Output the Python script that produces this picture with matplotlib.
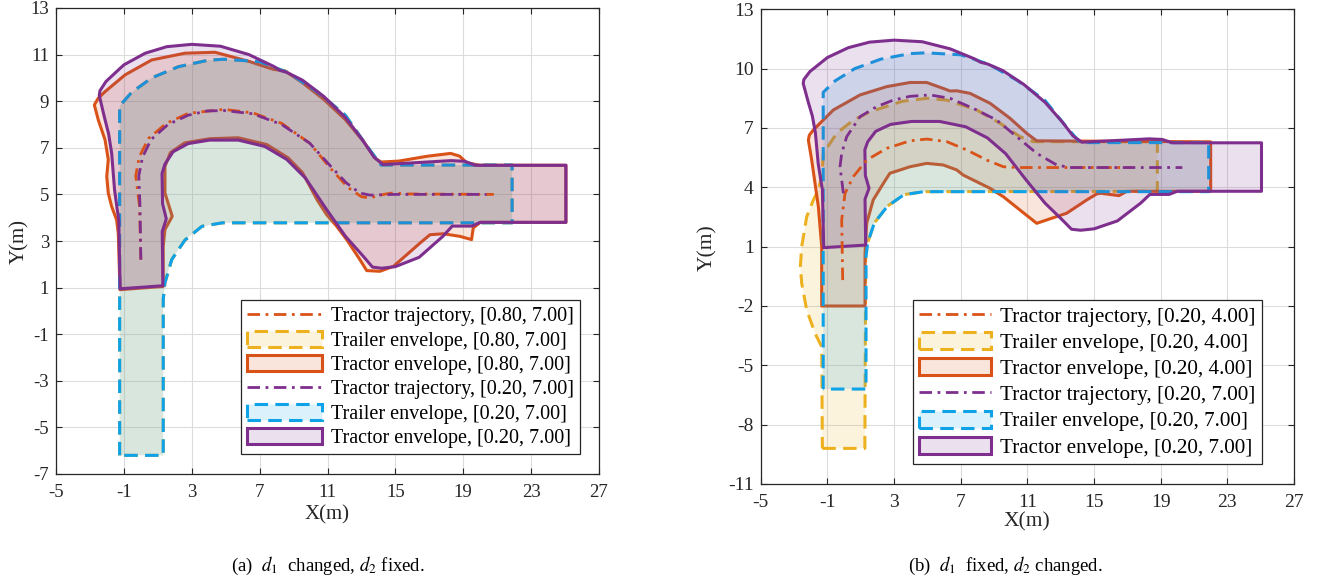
import matplotlib
matplotlib.use('Agg')
import matplotlib.pyplot as plt
from matplotlib.patches import Polygon
from matplotlib.colors import to_rgba
import numpy as np

plt.rcParams['font.family'] = ['Liberation Serif', 'DejaVu Serif']
plt.rcParams['mathtext.fontset'] = 'stix'
plt.rcParams['axes.unicode_minus'] = False

# ---------------- data ----------------
X_TICKS = [-5, -1, 3, 7, 11, 15, 19, 23, 27]
Y_TICKS_A = [-7, -5, -3, -1, 1, 3, 5, 7, 9, 11, 13]
Y_TICKS_B = [-11, -8, -5, -2, 1, 4, 7, 10, 13]

# trailer envelope, d2 = 7.00 (shared by [0.80, 7.00] and [0.20, 7.00])
TRAILER_D2_7_X = [-1.25, -1.25, -0.54, 0.64, 2.21, 3.97, 4.9, 7.0, 8.7, 10.4, 12.05, 13.3, 14.16,
                  21.88, 21.88, 4.8, 3.6, 2.6, 1.82, 1.42, 1.32, 1.32]
TRAILER_D2_7_Y = [-6.2, 8.8, 9.38, 10.0, 10.48, 10.76, 10.8, 10.7, 10.22, 9.4, 8.4, 7.1, 6.26,
                  6.26, 3.78, 3.78, 3.63, 3.04, 2.2, 1.2, 0.5, -6.2]

# tractor envelope [0.20, 7.00]
TRACTOR_P_X = [-1.22, -1.3, -1.42, -1.55, -1.72, -1.9, -2.16, -2.45, -2.41, -2.05, -1.0, 0.26, 1.53,
               3.0, 4.69, 6.37, 7.84, 8.2, 8.6, 9.53, 10.79, 12.06, 13.1, 13.74, 14.27, 18.3, 19.1,
               19.7, 25.05, 25.05, 20.0, 19.5, 18.35, 17.8, 16.4, 15.0, 14.2, 13.65, 13.1, 12.06,
               10.9, 9.7, 8.6, 7.3, 5.74, 4.05, 2.79, 1.9, 1.42, 1.25, 1.28, 1.5, 1.26, 1.3]
TRACTOR_P_Y = [0.95, 3.9, 4.5, 5.2, 6.77, 7.6, 8.35, 9.25, 9.45, 9.85, 10.56, 11.06, 11.34,
               11.44, 11.36, 11.0, 10.49, 10.32, 10.24, 9.9, 9.2, 8.3, 7.3, 6.6, 6.28, 6.45, 6.42,
               6.25, 6.25, 3.8, 3.8, 3.64, 3.64, 3.2, 2.3, 1.9, 1.83, 1.88, 2.35, 3.2,
               4.4, 5.7, 6.5, 7.06, 7.33, 7.33, 7.18, 6.83, 6.3, 5.9, 4.6, 3.95, 3.4, 1.08]

# tractor envelope [0.80, 7.00]
TRACTOR_O_A_X = [-1.23, -1.33, -1.43, -1.72, -1.92, -2.01, -1.92, -2.11, -2.51, -2.74, -2.51, -2.11,
                 -0.93, 0.64, 2.6, 4.37, 6.37, 7.84, 8.47, 9.53, 10.79, 12.05, 13.1, 13.84, 14.16,
                 15.2, 16.9, 18.26, 18.79, 19.2, 20.0, 25.05, 25.05, 20.0, 19.59, 19.49, 18.8, 17.83,
                 17.04, 16.45, 15.67, 14.88, 14.09, 13.31, 12.91, 12.13, 11.54, 10.95, 10.4, 9.95,
                 9.53, 8.68, 7.42, 5.74, 4.05, 2.58, 1.74, 1.42, 1.42, 1.85, 1.42, 1.32, 1.32]
TRACTOR_O_A_Y = [0.91, 3.34, 3.91, 4.48, 5.06, 5.77, 6.49, 7.34, 8.2, 8.84, 9.13, 9.41,
                 10.13, 10.77, 11.06, 11.1, 10.71, 10.36, 10.31, 9.79, 9.07, 8.21, 7.29, 6.53, 6.39,
                 6.43, 6.64, 6.76, 6.64, 6.36, 6.25, 6.25, 3.8, 3.8, 3.56, 3.06, 3.2, 3.31,
                 3.27, 2.91, 2.41, 1.91, 1.7, 1.73, 2.2, 3.06, 3.63, 4.13, 4.75, 5.36,
                 5.93, 6.57, 7.14, 7.43, 7.39, 7.21, 6.79, 6.2, 5.06, 4.06, 3.49, 2.77, 1.05]

# tractor trajectories, panel (a)
TRAJ_A_O_X = [0.0, -0.08, -0.3, -0.1, 0.45, 1.5, 2.8, 4.9, 6.6, 8.3, 9.95, 11.2, 12.2, 13.0, 13.5,
              14.3, 14.9, 15.5, 20.8]
TRAJ_A_O_Y = [2.2, 4.5, 5.8, 6.6, 7.4, 8.05, 8.48, 8.65, 8.5, 8.05, 7.2, 6.1, 5.3, 4.9, 4.85,
              5.0, 5.07, 5.02, 5.0]
TRAJ_A_P_X = [0.0, -0.05, -0.12, 0.1, 0.6, 1.6, 2.8, 3.9, 4.9, 6.6, 8.3, 9.95, 11.2, 12.1, 12.9,
              13.5, 15.0, 20.37]
TRAJ_A_P_Y = [2.2, 4.5, 5.8, 6.6, 7.35, 8.0, 8.4, 8.58, 8.6, 8.46, 8.0, 7.2, 6.2, 5.5, 5.06,
              4.97, 5.0, 5.0]

# panel (b): trailer envelope [0.20, 4.00]
TRAILER_B_Y4_X = [-1.3, 1.25, 1.3, 1.42, 1.82, 2.6, 3.6, 4.8, 18.8, 18.8, 11.36, 10.56, 9.36,
                  7.96, 6.16, 5.0, 3.5, 1.56, 0.56, -0.44, -1.24, -1.34, -1.54, -1.84, -2.24,
                  -2.54, -2.62, -2.54, -2.24, -1.74, -1.34]
TRAILER_B_Y4_Y = [-9.2, -9.2, 0.5, 1.2, 2.2, 3.04, 3.63, 3.78, 3.8, 6.3, 6.31, 6.56, 7.24,
                  7.91, 8.41, 8.5, 8.35, 7.82, 7.4, 6.73, 5.72, 4.54, 3.86, 3.36, 2.51,
                  1.0, 0.0, -0.85, -2.2, -3.38, -4.06]

# panel (b): tractor envelope [0.20, 4.00]
TRACTOR_O_B_X = [-1.34, -1.34, -1.44, -1.54, -1.74, -1.94, -2.14, -2.08, -1.84, -1.44, -0.64, 0.96,
                 2.56, 3.96, 4.96, 5.95, 6.36, 6.76, 7.56, 8.76, 9.96, 10.96, 11.56, 22.0, 22.0,
                 16.97, 16.5, 15.4, 15.17, 14.56, 13.36, 12.16, 11.56, 10.56, 9.55, 8.76, 7.75,
                 7.15, 6.76, 5.95, 4.96, 3.96, 2.75, 2.36, 1.75, 1.36, 1.26, 1.26]
TRACTOR_O_B_Y = [-2.0, 1.0, 2.01, 3.02, 4.2, 5.38, 6.39, 6.64, 6.9, 7.24, 7.91, 8.67,
                 9.09, 9.3, 9.3, 9.0, 8.87, 8.88, 8.75, 8.25, 7.49, 6.73, 6.35, 6.3, 3.8,
                 3.8, 3.58, 3.7, 3.67, 3.36, 2.69, 2.35, 2.18, 2.85, 3.53, 3.95, 4.37,
                 4.62, 4.88, 5.13, 5.21, 5.04, 4.71, 4.2, 3.36, 2.18, 0.66, -2.0]

# panel (b): tractor trajectories
TRAJ_B_O_X = [-0.08, -0.14, 0.06, 0.56, 1.36, 2.56, 3.96, 4.96, 6.16, 7.36, 8.56, 9.56, 10.4, 17.3]
TRAJ_B_O_Y = [-0.69, 2.35, 3.7, 4.54, 5.38, 5.97, 6.35, 6.44, 6.31, 5.89, 5.38, 5.04, 5.0, 5.0]
TRAJ_B_P_X = [-0.04, -0.24, -0.14, 0.16, 0.96, 1.96, 2.96, 3.96, 5.16, 6.36, 7.76, 9.16, 10.36,
              11.56, 12.76, 13.56, 20.3]
TRAJ_B_P_Y = [3.7, 5.04, 5.72, 6.56, 7.57, 8.08, 8.41, 8.6, 8.67, 8.5, 7.99, 7.4, 6.56,
              5.72, 5.13, 5.0, 5.0]

LABELS_A = ['Tractor trajectory, [0.80, 7.00]', 'Trailer envelope, [0.80, 7.00]',
            'Tractor envelope, [0.80, 7.00]', 'Tractor trajectory, [0.20, 7.00]',
            'Trailer envelope, [0.20, 7.00]', 'Tractor envelope, [0.20, 7.00]']
LABELS_B = ['Tractor trajectory, [0.20, 4.00]', 'Trailer envelope, [0.20, 4.00]',
            'Tractor envelope, [0.20, 4.00]', 'Tractor trajectory, [0.20, 7.00]',
            'Trailer envelope, [0.20, 7.00]', 'Tractor envelope, [0.20, 7.00]']
CAPTIONS = ['(a)  $d_1$  changed, $d_2$ fixed.', '(b)  $d_1$  fixed, $d_2$ changed.']

# ---------------- style ----------------
ORANGE = '#D95319'
YELLOW = '#EDB120'
PURPLE = '#7E2F8E'
BLUE = '#0EA2E8'
AXC = '#262626'
W, H = 1322, 585
DASH = (0, (4.4, 2.4))
DASHDOT = (0, (4.5, 2.0, 1.0, 2.0))

fig = plt.figure(figsize=(W / 100, H / 100), dpi=100)


def px_rect(l, t, r, b):
    return [l / W, 1 - b / H, (r - l) / W, (b - t) / H]


def env(ax, xs, ys, color, ls, label):
    p = Polygon(np.column_stack([xs, ys]), closed=True, facecolor=to_rgba(color, 0.15),
                edgecolor=color, linewidth=2.2, linestyle=ls, joinstyle='round', label=label)
    ax.add_patch(p)
    return p


def traj(ax, xs, ys, color, label):
    ln, = ax.plot(xs, ys, color=color, linewidth=2.0, linestyle=DASHDOT, label=label)
    return ln


def style_axes(ax, yticks, ylim, fs):
    ax.set_xlim(-5, 27)
    ax.set_ylim(*ylim)
    ax.set_xticks(X_TICKS)
    ax.set_yticks(yticks)
    ax.grid(True, color='#dcdcdc', linewidth=0.8)
    ax.set_axisbelow(True)
    ax.tick_params(direction='in', top=True, right=True, length=4.5, width=0.8,
                   colors=AXC, labelsize=fs, pad=5)
    ax.tick_params(axis='x', pad=7)
    for s in ax.spines.values():
        s.set_color(AXC)
        s.set_linewidth(0.9)


# ---------------- panel (a) ----------------
axA = fig.add_axes(px_rect(56, 8, 599, 474))
hA = [traj(axA, TRAJ_A_O_X, TRAJ_A_O_Y, ORANGE, LABELS_A[0]),
      env(axA, TRAILER_D2_7_X, TRAILER_D2_7_Y, YELLOW, DASH, LABELS_A[1]),
      env(axA, TRACTOR_O_A_X, TRACTOR_O_A_Y, ORANGE, '-', LABELS_A[2]),
      traj(axA, TRAJ_A_P_X, TRAJ_A_P_Y, PURPLE, LABELS_A[3]),
      env(axA, TRAILER_D2_7_X, TRAILER_D2_7_Y, BLUE, DASH, LABELS_A[4]),
      env(axA, TRACTOR_P_X, TRACTOR_P_Y, PURPLE, '-', LABELS_A[5])]
style_axes(axA, Y_TICKS_A, (-7, 13), 13.5)

# ---------------- panel (b) ----------------
axB = fig.add_axes(px_rect(760.7, 9.3, 1294, 484))
hB = [traj(axB, TRAJ_B_O_X, TRAJ_B_O_Y, ORANGE, LABELS_B[0]),
      env(axB, TRAILER_B_Y4_X, TRAILER_B_Y4_Y, YELLOW, DASH, LABELS_B[1]),
      env(axB, TRACTOR_O_B_X, TRACTOR_O_B_Y, ORANGE, '-', LABELS_B[2]),
      traj(axB, TRAJ_B_P_X, TRAJ_B_P_Y, PURPLE, LABELS_B[3]),
      env(axB, TRAILER_D2_7_X, TRAILER_D2_7_Y, BLUE, DASH, LABELS_B[4]),
      env(axB, TRACTOR_P_X, TRACTOR_P_Y, PURPLE, '-', LABELS_B[5])]
style_axes(axB, Y_TICKS_B, (-11, 13), 14)


def legend(ax, handles, right_px, bottom_px, fs, hl, ls):
    lg = ax.legend(handles=handles, loc='lower right',
                   bbox_to_anchor=(right_px / W, 1 - bottom_px / H),
                   bbox_transform=fig.transFigure, borderaxespad=0, fontsize=fs,
                   handlelength=hl, handleheight=0.85, handletextpad=0.45,
                   labelspacing=ls, borderpad=0.3, fancybox=False, framealpha=1,
                   edgecolor=AXC)
    lg.get_frame().set_linewidth(0.9)
    return lg


legend(axA, hA, 580, 454.3, 14.5, 3.7, 0.22)
legend(axB, hB, 1262, 464, 15.2, 3.4, 0.26)

# axis labels and captions
fig.text(327 / W, 1 - 515 / H, 'X(m)', ha='center', va='center', fontsize=15, color=AXC)
fig.text(1027 / W, 1 - 522 / H, 'X(m)', ha='center', va='center', fontsize=15.5, color=AXC)
fig.text(20 / W, 1 - 242 / H, 'Y(m)', ha='center', va='center', rotation=90, fontsize=15, color=AXC)
fig.text(708 / W, 1 - 248 / H, 'Y(m)', ha='center', va='center', rotation=90, fontsize=15.5, color=AXC)
fig.text(328 / W, 1 - 566 / H, CAPTIONS[0], ha='center', va='center', fontsize=13.5)
fig.text(1005 / W, 1 - 566 / H, CAPTIONS[1], ha='center', va='center', fontsize=13.5)

fig.savefig('out.png', dpi=100)
